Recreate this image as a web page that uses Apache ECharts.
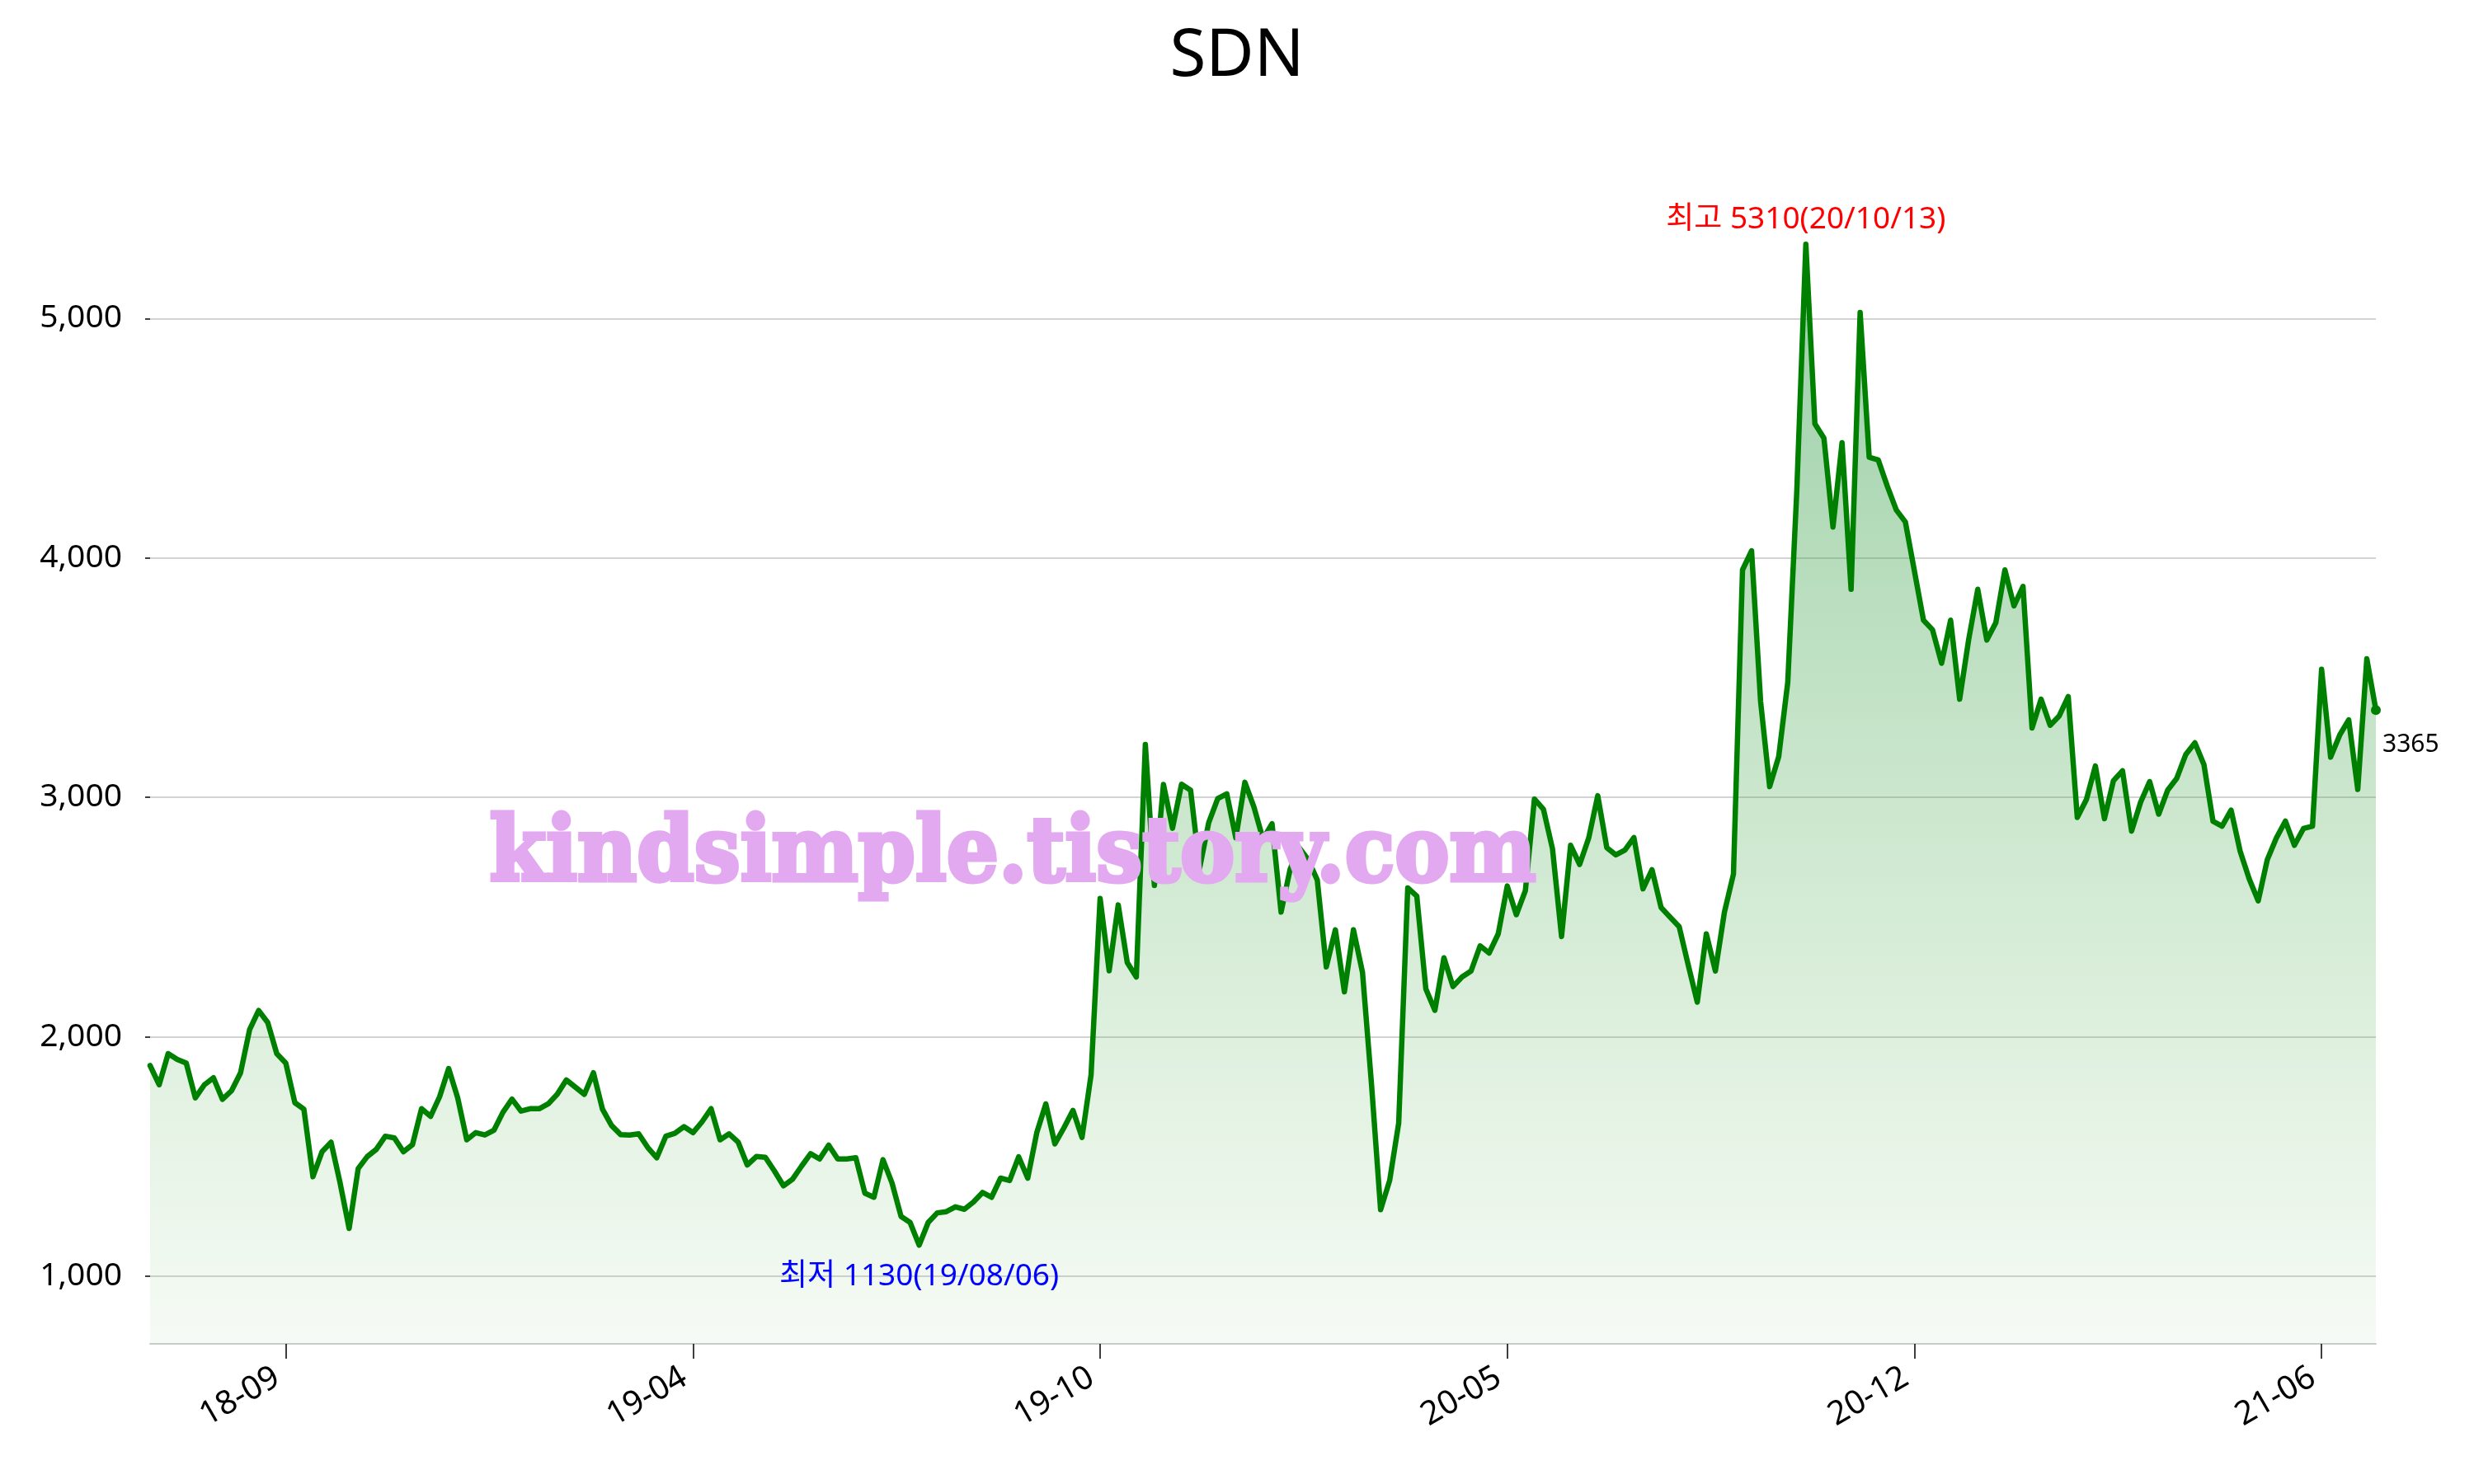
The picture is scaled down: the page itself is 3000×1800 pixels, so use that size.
<!DOCTYPE html>
<html>
<head>
<meta charset="utf-8">
<title>SDN</title>
<script src="https://cdn.jsdelivr.net/npm/echarts@6.0.0/dist/echarts.min.js"></script>
<style>
  html, body { margin: 0; padding: 0; background: #fff; }
  #chart { width: 3000px; height: 1800px; }
</style>
</head>
<body>
<div id="chart"></div>
<script>
// SDN 종가, 그림에서 약 3거래일 간격으로 읽은 값
const prices = [
  1880, 1800, 1930, 1906, 1890, 1745, 1800, 1829, 1739, 1775,
  1850, 2030, 2110, 2060, 1930, 1890, 1725, 1698, 1416, 1520,
  1560, 1390, 1200, 1450, 1500, 1530, 1585, 1578, 1520, 1550,
  1700, 1668, 1750, 1868, 1745, 1570, 1600, 1590, 1610, 1685,
  1740, 1690, 1700, 1700, 1720, 1760, 1820, 1790, 1760, 1850,
  1698, 1630, 1592, 1590, 1595, 1538, 1495, 1585, 1597, 1625,
  1600, 1645, 1700, 1570, 1595, 1560, 1465, 1500, 1497, 1440,
  1378, 1405, 1460, 1512, 1490, 1548, 1490, 1490, 1495, 1347,
  1330, 1487, 1390, 1250, 1225, 1130, 1225, 1265, 1270, 1290,
  1280, 1310, 1350, 1330, 1410, 1400, 1499, 1410, 1600, 1720,
  1553, 1620, 1693, 1580, 1841, 2578, 2276, 2551, 2310, 2250,
  3221, 2632, 3054, 2871, 3055, 3030, 2705, 2894, 2995, 3015,
  2831, 3063, 2960, 2826, 2890, 2521, 2700, 2790, 2740, 2655,
  2292, 2447, 2188, 2447, 2269, 1800, 1278, 1400, 1640, 2622,
  2588, 2200, 2111, 2330, 2210, 2250, 2275, 2380, 2350, 2430,
  2630, 2510, 2610, 2993, 2950, 2785, 2419, 2800, 2720, 2830,
  3007, 2790, 2760, 2780, 2832, 2618, 2698, 2540, 2500, 2460,
  2300, 2145, 2430, 2275, 2520, 2680, 3950, 4030, 3400, 3045,
  3170, 3480, 4280, 5310, 4560, 4500, 4129, 4481, 3869, 5025,
  4420, 4409, 4300, 4200, 4150, 3945, 3740, 3700, 3560, 3740,
  3410, 3660, 3869, 3657, 3730, 3950, 3800, 3881, 3290, 3410,
  3301, 3340, 3421, 2916, 2990, 3131, 2911, 3070, 3111, 2859,
  2980, 3066, 2930, 3031, 3080, 3180, 3228, 3137, 2900, 2880,
  2947, 2775, 2660, 2568, 2740, 2830, 2901, 2800, 2870, 2880,
  3535, 3168, 3260, 3324, 3033, 3579, 3365
];
const tickLabels = ['18-09', '19-04', '19-10', '20-05', '20-12', '21-06'];
const tickIndex = [15, 60, 105, 150, 195, 240];
const yTicks = [1000, 2000, 3000, 4000, 5000];
const maxDate = '20/10/13';
const minDate = '19/08/06';
const watermark = 'kindsimple.tistory.com';

const font = "'Noto Sans', 'Noto Sans CJK KR', sans-serif";
const isTick = (i) => tickIndex.indexOf(i) >= 0;

const categories = prices.map((v, i) => String(i));
const last = prices.length - 1;
const seriesData = prices.map((v, i) => {
  if (i !== last) return v;
  return {
    value: v,
    symbol: 'circle',
    symbolSize: 12,
    label: {
      show: true,
      position: 'right',
      distance: 2,
      offset: [0, 42],
      fontSize: 30,
      color: '#000',
      fontFamily: font,
      formatter: String(v)
    }
  };
});

const chart = echarts.init(document.getElementById('chart'));
chart.setOption({
  animation: false,
  backgroundColor: '#fff',
  title: {
    text: 'SDN',
    left: 'center',
    top: 24,
    textStyle: { fontSize: 80, fontWeight: 'normal', color: '#000', fontFamily: font }
  },
  grid: { left: 182, right: 119, top: 212, bottom: 170 },
  xAxis: {
    type: 'category',
    data: categories,
    boundaryGap: false,
    axisLine: { lineStyle: { color: '#cccccc', width: 2 } },
    axisTick: {
      interval: (i) => isTick(i),
      length: 18,
      lineStyle: { color: '#000', width: 1.5 }
    },
    axisLabel: {
      interval: (i) => isTick(i),
      rotate: 30,
      margin: 32,
      padding: [0, 12, 0, 0],
      fontSize: 40,
      color: '#000',
      fontFamily: font,
      formatter: (v, i) => tickLabels[tickIndex.indexOf(i)] || ''
    },
    splitLine: { show: false }
  },
  yAxis: {
    type: 'value',
    min: 718,
    max: 5600,
    axisLine: { show: false },
    axisTick: {
      show: true,
      length: 6,
      customValues: yTicks,
      lineStyle: { color: '#000', width: 1.5 }
    },
    axisLabel: {
      customValues: yTicks,
      margin: 34,
      fontSize: 39,
      color: '#000',
      fontFamily: font,
      formatter: (v) => v.toLocaleString('en-US')
    },
    splitLine: { lineStyle: { color: '#d3d3d3', width: 2 } }
  },
  series: [{
    type: 'line',
    data: seriesData,
    symbol: 'none',
    showSymbol: true,
    showAllSymbol: true,
    lineStyle: { color: '#008000', width: 6.5, join: 'round', cap: 'round' },
    itemStyle: { color: '#008000' },
    areaStyle: {
      origin: 'start',
      opacity: 1,
      color: new echarts.graphic.LinearGradient(0, 0, 0, 1, [
        { offset: 0, color: 'rgba(60,160,85,0.52)' },
        { offset: 1, color: 'rgba(90,180,80,0.06)' }
      ])
    },
    markPoint: {
      symbol: 'circle',
      symbolSize: 1,
      itemStyle: { color: 'rgba(0,0,0,0)' },
      label: { show: true, position: 'inside', fontSize: 37, fontFamily: font },
      data: [
        {
          type: 'max',
          label: { color: '#ff0000', offset: [0, -30], formatter: (p) => '최고 ' + p.value + '(' + maxDate + ')' }
        },
        {
          type: 'min',
          label: { color: '#0000ff', offset: [0, 38], formatter: (p) => '최저 ' + p.value + '(' + minDate + ')' }
        }
      ]
    }
  }],
  graphic: [{
    type: 'text',
    x: 1228,
    y: 1040,
    z: 100,
    scaleX: 0.92,
    silent: true,
    style: {
      text: watermark,
      font: 'bold 108px "DejaVu Serif"',
      fill: '#e3a9f0',
      stroke: '#e3a9f0',
      lineWidth: 5,
      align: 'center',
      verticalAlign: 'middle',
      textAlign: 'center',
      textVerticalAlign: 'middle'
    }
  }]
});
</script>
</body>
</html>
